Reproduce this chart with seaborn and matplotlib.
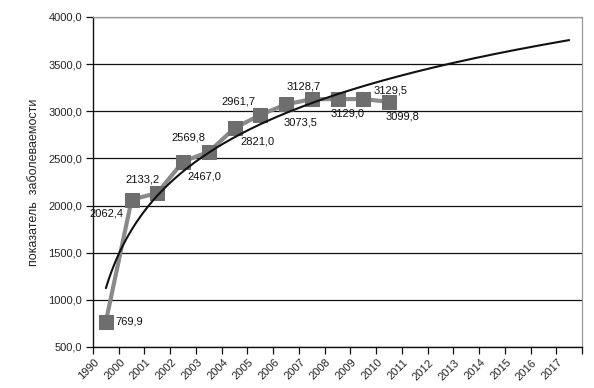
import numpy as np
import pandas as pd
import seaborn as sns
import matplotlib.pyplot as plt
from matplotlib.transforms import ScaledTranslation
from matplotlib.ticker import FixedLocator

sns.set_style("white")
plt.rcParams['font.family'] = ['Liberation Sans', 'DejaVu Sans']

# categories on the x axis
years = ["1990"] + [str(y) for y in range(2000, 2018)]
# observed values (first 12 categories)
values = [769.9, 2062.4, 2133.2, 2467.0, 2569.8, 2821.0,
          2961.7, 3073.5, 3128.7, 3129.0, 3129.5, 3099.8]
labels = ["769,9", "2062,4", "2133,2", "2467,0", "2569,8", "2821,0",
          "2961,7", "3073,5", "3128,7", "3129,0", "3129,5", "3099,8"]
# label offsets in pixels (dx, dy) relative to the marker
offsets = [(10, 0), (-25, -14), (-15, 14), (21, -15), (-20, 14), (23, -13),
           (-22, 13), (14, -18), (-8, 13), (10, -14), (27, 9), (14, -15)]

df = pd.DataFrame({"x": np.arange(len(values)), "y": values})

# logarithmic trend line fitted on the data (x = 1..n), extended to 2017
b, a = np.polyfit(np.log(df["x"] + 1), df["y"], 1)
xt = np.linspace(0, len(years) - 1, 200)
trend = pd.DataFrame({"x": xt, "y": a + b * np.log(xt + 1)})

fig = plt.figure(figsize=(5.94, 3.88), dpi=100)
ax = fig.add_axes([0.1566, 0.1057, 0.8232, 0.8505])

sns.lineplot(data=df, x="x", y="y", ax=ax, color="#8a8a8a", linewidth=3,
             marker="s", markersize=10, markerfacecolor="#6e6e6e",
             markeredgecolor="#6e6e6e", zorder=3)
sns.lineplot(data=trend, x="x", y="y", ax=ax, color="#111111",
             linewidth=1.5, zorder=4)

for i, (v, t) in enumerate(zip(values, labels)):
    dx, dy = offsets[i]
    ha = "left" if i == 0 else "center"
    ax.annotate(t, (i, v), xytext=(dx * 0.72, dy * 0.72),
                textcoords="offset points", ha=ha, va="center",
                fontsize=8, color="#111111", zorder=5)

ax.set_xlim(-0.5, len(years) - 0.5)
ax.set_ylim(500, 4000)
ax.set_yticks(np.arange(500, 4001, 500))
ax.set_yticklabels([f"{v:.1f}".replace(".", ",") for v in np.arange(500, 4001, 500)],
                   fontsize=8)
ax.yaxis.grid(True, color="#111111", linewidth=0.9)
ax.set_axisbelow(True)

ax.set_xticks(np.arange(len(years)))
ax.set_xticklabels(years, fontsize=8, rotation=45, ha="right",
                   va="center", rotation_mode="anchor")
ax.xaxis.set_minor_locator(FixedLocator(np.arange(-0.5, len(years), 1)))
ax.tick_params(axis="x", which="major", length=0, pad=10)
ax.tick_params(axis="x", which="minor", length=5, width=0.9, color="#111111",
               direction="out", bottom=True)
ax.tick_params(axis="y", length=5, width=0.9, color="#111111",
               direction="out", left=True, pad=3)
for lab in ax.get_xticklabels():
    lab.set_transform(lab.get_transform() + ScaledTranslation(-6 / 72, 0, fig.dpi_scale_trans))

ax.set_xlabel("")
ax.set_ylabel("показатель  заболеваемости", fontsize=9, labelpad=6)

for s in ["left", "bottom"]:
    ax.spines[s].set_color("#111111")
    ax.spines[s].set_linewidth(1.0)
for s in ["top", "right"]:
    ax.spines[s].set_color("#999999")
    ax.spines[s].set_linewidth(0.9)
    ax.spines[s].set_visible(True)

fig.savefig("out.png", dpi=100)
